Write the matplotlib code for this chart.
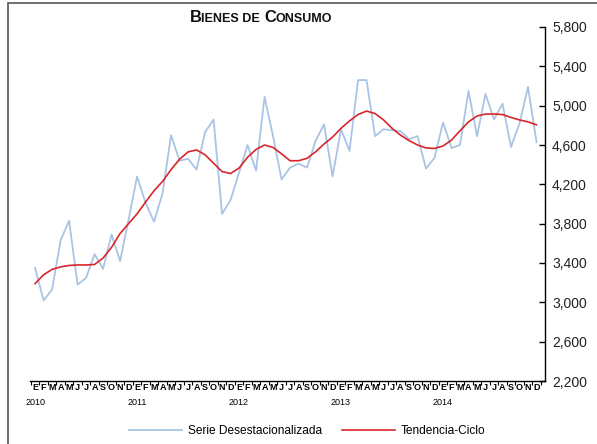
import matplotlib

matplotlib.use("Agg")

import matplotlib.pyplot as plt
from matplotlib.patches import Rectangle
from matplotlib.ticker import FuncFormatter
import numpy as np

# monthly data, Jan 2010 - Dec 2014
MONTH_LETTERS = ["E", "F", "M", "A", "M", "J", "J", "A", "S", "O", "N", "D"]
YEARS = ["2010", "2011", "2012", "2013", "2014"]

seasonally_adjusted = [
    3350, 3020, 3130, 3630, 3830, 3180, 3250, 3490, 3340, 3690, 3420, 3840,
    4280, 4010, 3820, 4110, 4700, 4440, 4460, 4350, 4730, 4860, 3900, 4040,
    4320, 4600, 4340, 5090, 4690, 4250, 4370, 4410, 4370, 4640, 4810, 4280,
    4760, 4540, 5260, 5260, 4690, 4760, 4750, 4740, 4660, 4690, 4360, 4470,
    4830, 4570, 4600, 5150, 4690, 5120, 4860, 5020, 4580, 4820, 5190, 4630,
]
trend_cycle = [
    3190, 3280, 3335, 3360, 3375, 3380, 3380, 3385, 3450, 3560, 3700, 3800,
    3900, 4020, 4135, 4230, 4350, 4455, 4530, 4550, 4500, 4415, 4330, 4310,
    4365, 4475, 4555, 4600, 4575, 4510, 4440, 4440, 4465, 4530, 4610, 4680,
    4770, 4845, 4910, 4945, 4920, 4855, 4770, 4700, 4645, 4600, 4570, 4565,
    4590, 4650, 4745, 4835, 4895, 4915, 4915, 4910, 4880, 4855, 4835, 4805,
]

W, H = 597, 444


def draw_title(fig) -> None:
    # small caps look: big first letters, smaller rest
    pieces = [("B", 11.8, 0), ("IENES DE", 9, 4), ("C", 11.8, 0), ("ONSUMO", 9, 0)]
    baseline = 1 - 22 / H
    texts = []
    for s, size, _ in pieces:
        texts.append(fig.text(0, baseline, s, fontsize=size, fontweight="bold",
                              va="baseline", ha="left", color="#111111"))
    renderer = fig.canvas.get_renderer()
    widths = [t.get_window_extent(renderer).width for t in texts]
    total = sum(widths) + sum(p[2] for p in pieces)
    x = 261 - total / 2
    for t, w, p in zip(texts, widths, pieces):
        t.set_x(x / W)
        x += w + p[2]


def main() -> None:
    plt.rcParams["font.family"] = ["Liberation Sans", "DejaVu Sans"]

    fig = plt.figure(figsize=(W / 100, H / 100), dpi=100)
    ax = fig.add_axes([30 / W, 1 - 381 / H, (545 - 30) / W, (381 - 27) / H])

    x = np.arange(len(seasonally_adjusted))
    ax.plot(x, seasonally_adjusted, color="#a9c4e4", lw=1.3,
            label="Serie Desestacionalizada")
    ax.plot(x, trend_cycle, color="#d9262b", lw=1.2, label="Tendencia-Ciclo")

    ax.set_xlim(-0.6, 60)
    ax.set_ylim(2200, 5800)
    ax.set_yticks(np.arange(2200, 5801, 400))
    ax.yaxis.set_major_formatter(FuncFormatter(lambda v, p: f"{int(v):,}"))
    ax.yaxis.tick_right()
    ax.tick_params(axis="y", direction="in", length=4, width=1,
                   labelsize=10, pad=5, labelcolor="#222222")

    ax.set_xticks(x)
    ax.set_xticklabels(MONTH_LETTERS * len(YEARS), fontsize=6.5, fontweight="bold")
    ax.set_xticks(np.arange(-0.5, 60, 1), minor=True)
    ax.tick_params(axis="x", which="major", length=0, pad=1.2)
    ax.tick_params(axis="x", which="minor", length=3, width=0.8, direction="out")

    for i, year in enumerate(YEARS):
        ax.annotate(year, xy=(i * 12, 0), xycoords=("data", "axes fraction"),
                    xytext=(0, -12), textcoords="offset points",
                    ha="center", va="top", fontsize=6.5)

    for side in ["left", "top"]:
        ax.spines[side].set_visible(False)
    for side in ["bottom", "right"]:
        ax.spines[side].set_linewidth(1)

    fig.legend(loc="center", bbox_to_anchor=(307.5 / W, 1 - 431 / H), ncol=2,
               frameon=False, handlelength=4.4, handletextpad=0.5,
               columnspacing=1.7, fontsize=8.6)

    fig.add_artist(Rectangle((8 / W, -0.1), 1.2, 1 - 3 / H + 0.1,
                             transform=fig.transFigure, fill=False,
                             edgecolor="#555555", lw=1.2))

    draw_title(fig)

    fig.savefig("out.png", dpi=100)
    plt.close(fig)


if __name__ == "__main__":
    main()
